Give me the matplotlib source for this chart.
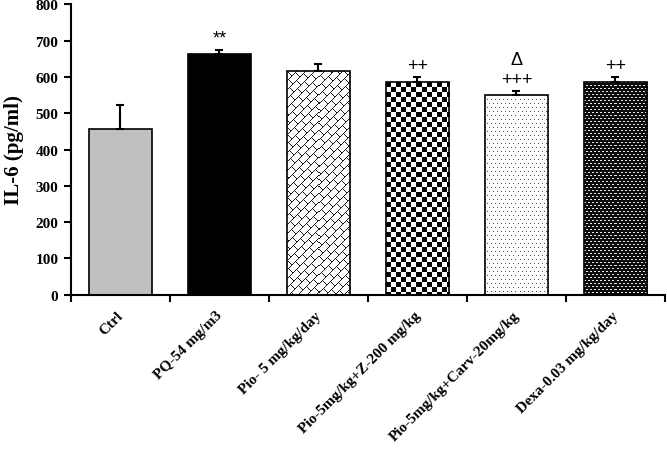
import numpy as np
import matplotlib.pyplot as plt

# data
groups = ["Ctrl", "PQ-54 mg/m3", "Pio- 5 mg/kg/day", "Pio-5mg/kg+Z-200 mg/kg",
          "Pio-5mg/kg+Carv-20mg/kg", "Dexa-0.03 mg/kg/day"]
means = [458, 663, 617, 586, 550, 587]
sems = [64, 12, 20, 13, 12, 13]
marks = ["", "**", "", "++", "+++", "++"]
marks_top = ["", "", "", "", "\u0394", ""]
fills = ["solid_gray", "solid_black", "brick", "checker", "dots", "dark_dash"]

serif = ["Liberation Serif", "DejaVu Serif"]
sans = ["Liberation Sans", "DejaVu Sans"]


def pattern(kind, w, h):
    """Return an RGB image (h x w) for a bar fill pattern."""
    r, c = np.mgrid[0:h, 0:w]
    img = np.ones((h, w, 3))
    if kind == "checker":
        on = ((r // 5 + c // 5) % 2) == 0
        img[on] = 0.0
    elif kind == "dots":
        on = ((r % 4) == 0) & (((c + 2 * ((r // 4) % 2)) % 4) == 0)
        img[on] = 0.3
    elif kind == "dark_dash":
        img[:] = 0.05
        on = ((r % 3) == 0) & (((c + 2 * ((r // 3) % 2)) % 4) < 2)
        img[on] = 0.9
    elif kind == "brick":
        P, L = 9, 14
        u = c + r
        k = u // P
        line = (u % P) == 0
        cross = ((c - r + (k % 2) * (L // 2)) % L) == 0
        img[line | cross] = 0.1
    return img


fig = plt.figure(figsize=(6.67, 4.52), dpi=100)
ax = fig.add_axes([0.1064, 0.3458, 0.997 - 0.1064, 0.988 - 0.3458])

xs = np.arange(len(groups))
width = 0.64
ax.set_xlim(-0.5, len(groups) - 0.5)
ax.set_ylim(0, 800)

for x, m, kind in zip(xs, means, fills):
    if kind == "solid_gray":
        ax.bar(x, m, width=width, color="#c0c0c0", edgecolor="black", linewidth=1.2, zorder=2)
    elif kind == "solid_black":
        ax.bar(x, m, width=width, color="black", edgecolor="black", linewidth=1.2, zorder=2)
    else:
        b = ax.bar(x, m, width=width, facecolor="none", edgecolor="black", linewidth=1.2, zorder=3)[0]
        p0 = ax.transData.transform((x - width / 2, 0))
        p1 = ax.transData.transform((x + width / 2, m))
        wpx = int(round(abs(p1[0] - p0[0])))
        hpx = int(round(abs(p1[1] - p0[1])))
        im = ax.imshow(pattern(kind, wpx, hpx), extent=(x - width / 2, x + width / 2, 0, m),
                       aspect="auto", interpolation="nearest", zorder=2)
        im.set_clip_path(b)

ax.errorbar(xs, means, yerr=[np.zeros(len(sems)), sems], fmt="none", ecolor="black",
            elinewidth=1.5, capsize=3, capthick=1.5, zorder=4)

for x, m, s, t in zip(xs, means, sems, marks):
    if t:
        ax.text(x, m + s + 8, t, ha="center", va="bottom", fontsize=13, family=sans)
for x, m, s, t in zip(xs, means, sems, marks_top):
    if t:
        ax.text(x, m + s + 62, t, ha="center", va="bottom", fontsize=13, family=sans)

ax.set_xlim(-0.5, len(groups) - 0.5)
ax.set_ylim(0, 800)
ax.set_yticks(np.arange(0, 801, 100))
ax.set_xticks(np.arange(-0.5, len(groups), 1.0))
ax.set_xticklabels([])
ax.tick_params(axis="y", direction="out", length=5, width=1.5, labelsize=11, pad=4)
ax.tick_params(axis="x", direction="out", length=5, width=1.5)
for lbl in ax.get_yticklabels():
    lbl.set_fontweight("bold")
    lbl.set_family(serif)

for x, g in zip(xs, groups):
    ax.text(x - 0.04, -38, g, rotation=45, ha="right", va="top", rotation_mode="anchor",
            fontsize=11, fontweight="bold", family=serif)

ax.set_ylabel("IL-6 (pg/ml)", fontsize=15, fontweight="bold", family=serif, labelpad=8)

for sp in ["top", "right"]:
    ax.spines[sp].set_visible(False)
for sp in ["left", "bottom"]:
    ax.spines[sp].set_linewidth(1.5)

fig.savefig("out.png", dpi=100)
